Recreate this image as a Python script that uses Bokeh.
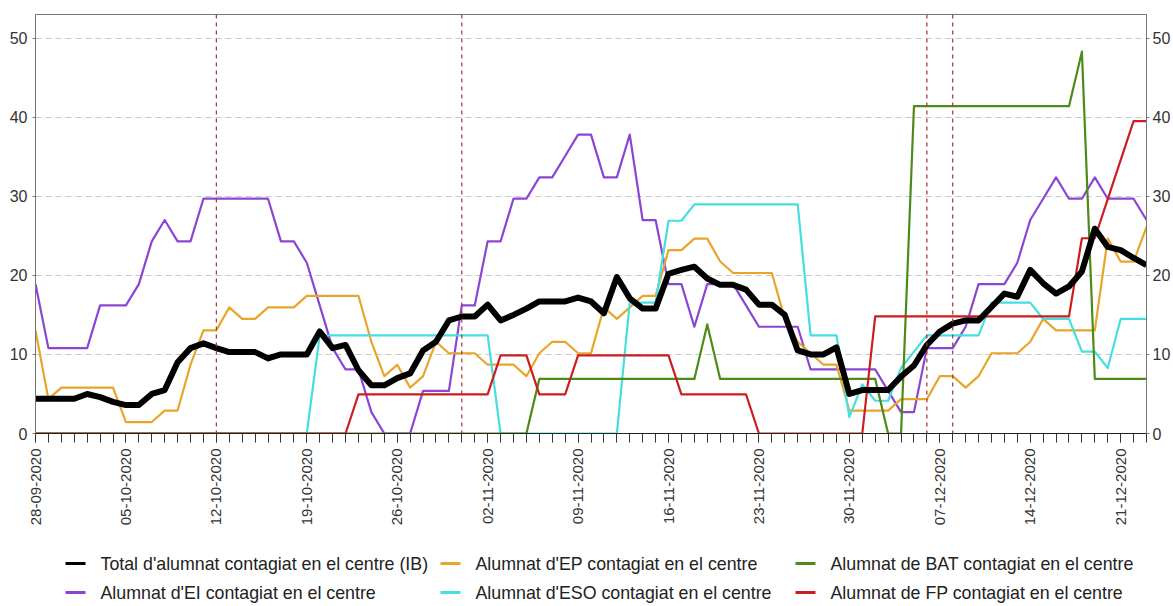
import math
from bokeh.plotting import figure
from bokeh.layouts import column
from bokeh.models import Range1d, LinearAxis, FixedTicker, Span
from bokeh.core.properties import value
from bokeh.embed import file_html
from bokeh.resources import INLINE

# ---------------- data (one value per calendar day, 28-09-2020 .. 23-12-2020) -------------
tick_days = [0, 7, 14, 21, 28, 35, 42, 49, 56, 63, 70, 77, 84]
tick_labels = ["28-09-2020", "05-10-2020", "12-10-2020", "19-10-2020", "26-10-2020",
               "02-11-2020", "09-11-2020", "16-11-2020", "23-11-2020", "30-11-2020",
               "07-12-2020", "14-12-2020", "21-12-2020"]
holiday_days = [14, 33, 69, 71]

total = [4.4, 4.4, 4.4, 4.4, 5.0, 4.6, 4.0, 3.6, 3.6, 5.0,
         5.5, 9.0, 10.8, 11.4, 10.8, 10.3, 10.3, 10.3, 9.5, 10.0,
         10.0, 10.0, 12.9, 10.8, 11.2, 8.0, 6.1, 6.1, 7.0, 7.6,
         10.5, 11.6, 14.3, 14.8, 14.8, 16.3, 14.3, 15.0, 15.8, 16.7,
         16.7, 16.7, 17.2, 16.7, 15.2, 19.8, 17.1, 15.8, 15.8, 20.2,
         20.7, 21.1, 19.6, 18.8, 18.8, 18.2, 16.3, 16.3, 15.0, 10.5,
         10.0, 10.0, 10.9, 5.0, 5.5, 5.5, 5.5, 7.2, 8.6, 11.2,
         12.9, 13.9, 14.3, 14.3, 16.0, 17.7, 17.3, 20.7, 19.0, 17.7,
         18.6, 20.5, 25.9, 23.6, 23.2, 22.2, 21.3]

ei = [18.9, 10.8, 10.8, 10.8, 10.8, 16.2, 16.2, 16.2, 18.9, 24.3,
      27.0, 24.3, 24.3, 29.7, 29.7, 29.7, 29.7, 29.7, 29.7, 24.3,
      24.3, 21.6, 16.2, 10.8, 8.1, 8.1, 2.7, 0.0, 0.0, 0.0,
      5.4, 5.4, 5.4, 16.2, 16.2, 24.3, 24.3, 29.7, 29.7, 32.4,
      32.4, 35.1, 37.8, 37.8, 32.4, 32.4, 37.8, 27.0, 27.0, 18.9,
      18.9, 13.5, 18.9, 18.9, 18.9, 16.2, 13.5, 13.5, 13.5, 13.5,
      8.1, 8.1, 8.1, 8.1, 8.1, 8.1, 5.4, 2.7, 2.7, 10.8,
      10.8, 10.8, 13.5, 18.9, 18.9, 18.9, 21.6, 27.0, 29.7, 32.4,
      29.7, 29.7, 32.4, 29.7, 29.7, 29.7, 27.0]

ep = [13.05, 4.35, 5.8, 5.8, 5.8, 5.8, 5.8, 1.45, 1.45, 1.45,
      2.9, 2.9, 8.7, 13.05, 13.05, 15.95, 14.5, 14.5, 15.95, 15.95,
      15.95, 17.4, 17.4, 17.4, 17.4, 17.4, 11.6, 7.25, 8.7, 5.8,
      7.25, 11.6, 10.15, 10.15, 10.15, 8.7, 8.7, 8.7, 7.25, 10.15,
      11.6, 11.6, 10.15, 10.15, 15.95, 14.5, 15.95, 17.4, 17.4, 23.2,
      23.2, 24.65, 24.65, 21.75, 20.3, 20.3, 20.3, 20.3, 14.5, 11.6,
      10.15, 8.7, 8.7, 2.9, 2.9, 2.9, 2.9, 4.35, 4.35, 4.35,
      7.25, 7.25, 5.8, 7.25, 10.15, 10.15, 10.15, 11.6, 14.5, 13.05,
      13.05, 13.05, 13.05, 24.65, 21.75, 21.75, 26.1]

eso = [0.0] * 22 + [12.42] * 14 + [0.0] * 10 + [16.56] * 3 + [26.91] * 2 + [28.98] * 9 + \
      [12.42] * 3 + [2.07, 6.21, 4.14, 4.14, 8.28, 10.35] + [12.42] * 5 + [16.56] * 4 + \
      [14.49] * 3 + [10.35] * 2 + [8.28] + [14.49] * 3

bat = [0.0] * 39 + [6.9] * 13 + [13.8] + [6.9] * 13 + [0.0] * 2 + [41.4] * 13 + [48.3] + [6.9] * 5

fp = [0.0] * 25 + [4.94] * 11 + [9.88] * 3 + [4.94] * 3 + [9.88] * 8 + [4.94] * 6 + \
     [0.0] * 9 + [14.82] * 16 + [24.7] * 2 + [29.64, 34.58, 39.52, 39.52]

days = list(range(len(total)))

names = ["Total d'alumnat contagiat en el centre (IB)",
         "Alumnat d'EI contagiat en el centre",
         "Alumnat d'EP contagiat en el centre",
         "Alumnat d'ESO contagiat en el centre",
         "Alumnat de BAT contagiat en el centre",
         "Alumnat de FP contagiat en el centre"]
colors = ["#000000", "#8B45D3", "#E8A52A", "#46DEE0", "#4E8A18", "#CC1E1E"]

FONT = "Liberation Sans"
W = 1173
H1 = 530
LH = 76
BL, BR = 35, 27   # left / right borders shared by both figures

p = figure(width=W, height=H1, output_backend="svg", toolbar_location=None,
           x_range=Range1d(0, 86), y_range=Range1d(0, 53),
           min_border_left=BL, min_border_right=BR, min_border_top=14,
           min_border_bottom=H1 - 433)
p.background_fill_color = "white"
p.border_fill_color = "white"
p.outline_line_color = "#777777"
p.outline_line_width = 1

# grids
p.xgrid.visible = False
p.ygrid.ticker = FixedTicker(ticks=[10, 20, 30, 40, 50])
p.ygrid.grid_line_color = "#C8C8C8"
p.ygrid.grid_line_dash = "6 4"
p.ygrid.grid_line_width = 1

# x axis
xa = p.xaxis[0]
xa.ticker = FixedTicker(ticks=tick_days, minor_ticks=days)
xa.major_label_overrides = {d: lab for d, lab in zip(tick_days, tick_labels)}
xa.major_label_orientation = math.pi / 2
xa.major_label_text_font = FONT
xa.major_label_text_font_size = "15px"
xa.major_label_text_color = "#333333"
xa.major_label_standoff = 6
xa.major_tick_in = 0
xa.major_tick_out = 9
xa.minor_tick_in = 0
xa.minor_tick_out = 9
xa.major_tick_line_color = "#333333"
xa.minor_tick_line_color = "#333333"
xa.axis_line_color = "#222222"

# y axes
ya = p.yaxis[0]
ya2 = LinearAxis()
p.add_layout(ya2, "right")
for ax, stand in ((ya, 5), (ya2, 3)):
    ax.ticker = FixedTicker(ticks=[0, 10, 20, 30, 40, 50])
    ax.major_label_text_font = FONT
    ax.major_label_text_font_size = "16px"
    ax.major_label_text_color = "#333333"
    ax.major_label_standoff = stand
    ax.major_tick_in = 0
    ax.major_tick_out = 3
    ax.minor_tick_line_color = None
    ax.axis_line_color = "#777777"
    ax.major_tick_line_color = "#777777"

# holiday markers
for d in holiday_days:
    p.add_layout(Span(location=d, dimension="height", line_color="#A83232",
                      line_dash="4 4", line_width=1.2))

# series (drawing order: EI, EP, ESO, BAT, FP, Total on top)
series = [total, ei, ep, eso, bat, fp]
for i in [1, 2, 3, 4, 5, 0]:
    p.line(days, series[i], line_color=colors[i],
           line_width=6 if i == 0 else 2.2, line_join="round")

# ---------------- legend panel (separate figure; x in page pixels) ----------------
lg = figure(width=W, height=LH, output_backend="svg", toolbar_location=None,
            x_range=Range1d(BL, W - BR), y_range=Range1d(LH, 0),
            x_axis_type=None, y_axis_type=None,
            min_border_left=BL, min_border_right=BR, min_border_top=0, min_border_bottom=0)
lg.outline_line_color = None
lg.xgrid.visible = False
lg.ygrid.visible = False
lg.background_fill_color = "white"
lg.border_fill_color = "white"

col_x = [65, 440, 795]      # glyph start per column
row_y = [33, 62]            # row centre
gx0, gx1, tx, gy = [], [], [], []
for k in range(6):
    c, r = k // 2, k % 2
    gx0.append(col_x[c])
    gx1.append(col_x[c] + 20)
    tx.append(col_x[c] + 35)
    gy.append(row_y[r])
lg.segment(x0=gx0, y0=gy, x1=gx1, y1=gy, line_color=colors, line_width=3)
lg.text(x=tx, y=gy, text=names, text_baseline="middle", text_align="left",
        text_font=value(FONT), text_font_size="17.8px", text_color="#222222")

layout = column(p, lg, spacing=0)
open("out.html", "w").write(file_html(layout, INLINE))
